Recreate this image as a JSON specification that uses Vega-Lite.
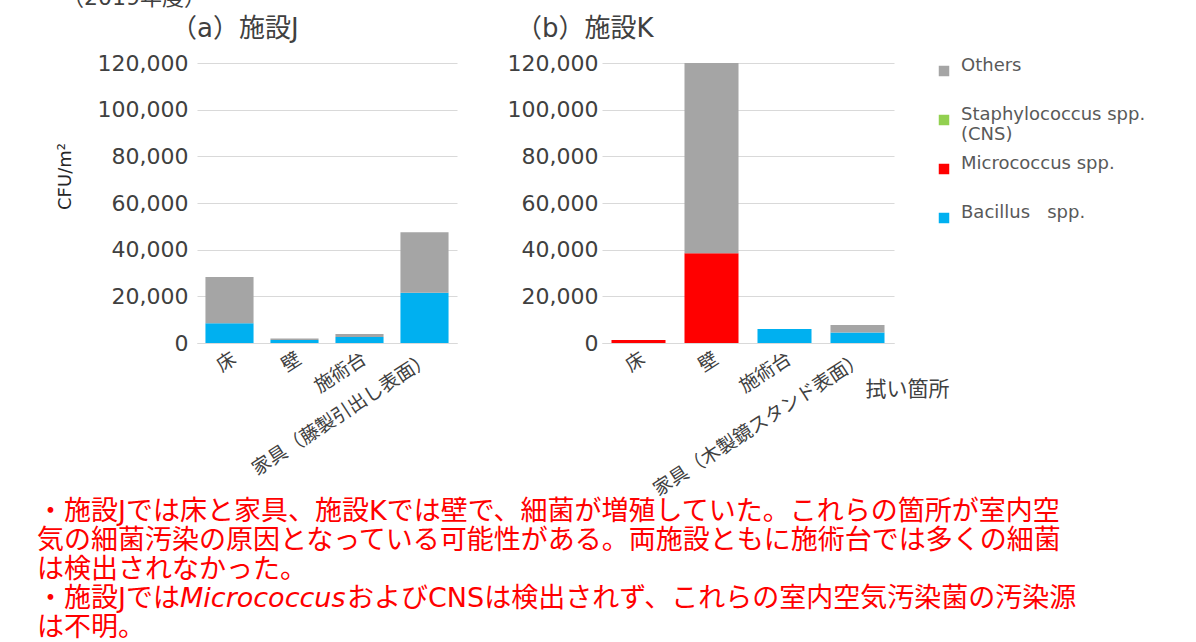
{
  "$schema": "https://vega.github.io/schema/vega-lite/v6.json",
  "background": "white",
  "padding": {"left": 37, "top": -13, "right": 0, "bottom": 0},
  "title": {"text": "（2019年度）", "anchor": "start", "frame": "bounds", "fontSize": 22, "font": "DejaVu Sans, Noto Sans CJK JP", "fontWeight": "normal", "color": "#404040", "dx": 25, "offset": 6},
  "datasets": {
    "bars": [
      {"facility": "J", "location": "床", "species": "Bacillus spp.", "cfu": 8500},
      {"facility": "J", "location": "床", "species": "Others", "cfu": 19800},
      {"facility": "J", "location": "壁", "species": "Bacillus spp.", "cfu": 1300},
      {"facility": "J", "location": "壁", "species": "Others", "cfu": 600},
      {"facility": "J", "location": "施術台", "species": "Bacillus spp.", "cfu": 2600},
      {"facility": "J", "location": "施術台", "species": "Others", "cfu": 1300},
      {"facility": "J", "location": "家具（藤製引出し表面）", "species": "Bacillus spp.", "cfu": 21500},
      {"facility": "J", "location": "家具（藤製引出し表面）", "species": "Others", "cfu": 26000},
      {"facility": "K", "location": "床", "species": "Micrococcus spp.", "cfu": 1300},
      {"facility": "K", "location": "壁", "species": "Micrococcus spp.", "cfu": 38500},
      {"facility": "K", "location": "壁", "species": "Others", "cfu": 81500},
      {"facility": "K", "location": "施術台", "species": "Bacillus spp.", "cfu": 6000},
      {"facility": "K", "location": "家具（木製鏡スタンド表面）", "species": "Bacillus spp.", "cfu": 4500},
      {"facility": "K", "location": "家具（木製鏡スタンド表面）", "species": "Others", "cfu": 3200}
    ]
  },
  "spacing": -4,
  "vconcat": [
    {
      "spacing": 50,
      "hconcat": [
        {
          "width": 260,
          "height": 280,
          "title": {"text": "（a）施設J", "anchor": "start", "frame": "group", "dx": -26, "fontSize": 26, "font": "DejaVu Sans, Noto Sans CJK JP", "fontWeight": "normal", "color": "#404040", "offset": 10},
          "data": {"name": "bars"},
          "transform": [{"filter": "datum.facility === 'J'"}],
          "mark": {"type": "bar"},
          "encoding": {
            "x": {"field": "location", "type": "nominal", "sort": null, "scale": {"paddingInner": 0.26, "paddingOuter": 0.13},
              "axis": {"title": null, "labelAngle": -33, "labelFont": "Noto Sans CJK JP", "labelFontSize": 19, "labelColor": "#404040", "ticks": false, "domainColor": "#D9D9D9", "labelPadding": 6, "labelLimit": 400}},
            "y": {"field": "cfu", "type": "quantitative", "stack": "zero", "scale": {"domain": [0, 120000], "nice": false},
              "axis": {"title": "CFU/m²", "values": [0, 20000, 40000, 60000, 80000, 100000, 120000], "format": ",d", "labelFont": "DejaVu Sans", "labelFontSize": 22, "labelColor": "#404040", "labelPadding": 9, "ticks": false, "domain": false, "gridColor": "#D9D9D9", "titleFont": "DejaVu Sans", "titleFontSize": 18, "titleFontWeight": "normal", "titleColor": "#262626", "titleX": -132, "titleY": 113, "titleAngle": -90, "titleAlign": "center", "titleBaseline": "middle"}},
            "color": {"field": "species", "type": "nominal",
              "scale": {"domain": ["Others", "Staphylococcus spp. (CNS)", "Micrococcus spp.", "Bacillus spp."], "range": ["#A5A5A5", "#92D050", "#FF0000", "#00B0F0"]},
              "legend": {"title": null, "orient": "none", "legendX": 738, "legendY": -1, "symbolType": "square", "symbolSize": 110, "symbolStrokeWidth": 0, "labelFont": "DejaVu Sans", "labelFontSize": 18, "labelColor": "#595959", "labelBaseline": "alphabetic", "rowPadding": 11, "labelLimit": 300, "labelOffset": 8,
                "labelExpr": "datum.label == 'Staphylococcus spp. (CNS)' ? ['Staphylococcus spp.', '(CNS)'] : datum.label == 'Bacillus spp.' ? ['Bacillus\u00a0\u00a0 spp.', ''] : [datum.label, '']"}},
            "order": {"field": "species", "sort": "ascending"}
          }
        },
        {
          "width": 292,
          "height": 280,
          "title": {"text": "（b）施設K", "anchor": "start", "frame": "group", "dx": -86, "fontSize": 26, "font": "DejaVu Sans, Noto Sans CJK JP", "fontWeight": "normal", "color": "#404040", "offset": 10},
          "data": {"name": "bars"},
          "transform": [{"filter": "datum.facility === 'K'"}],
          "mark": {"type": "bar"},
          "encoding": {
            "x": {"field": "location", "type": "nominal", "sort": null, "scale": {"paddingInner": 0.26, "paddingOuter": 0.13},
              "axis": {"title": "拭い箇所", "titleFont": "Noto Sans CJK JP", "titleFontSize": 21, "titleFontWeight": "normal", "titleColor": "#404040", "titleX": 263, "titleY": 46, "titleAlign": "left", "titleBaseline": "middle", "labelAngle": -33, "labelFont": "Noto Sans CJK JP", "labelFontSize": 19, "labelColor": "#404040", "ticks": false, "domainColor": "#D9D9D9", "labelPadding": 6, "labelLimit": 400}},
            "y": {"field": "cfu", "type": "quantitative", "stack": "zero", "scale": {"domain": [0, 120000], "nice": false},
              "axis": {"title": null, "values": [0, 20000, 40000, 60000, 80000, 100000, 120000], "format": ",d", "labelFont": "DejaVu Sans", "labelFontSize": 22, "labelColor": "#404040", "labelPadding": 4, "ticks": false, "domain": false, "gridColor": "#D9D9D9"}},
            "color": {"field": "species", "type": "nominal",
              "scale": {"domain": ["Others", "Staphylococcus spp. (CNS)", "Micrococcus spp.", "Bacillus spp."], "range": ["#A5A5A5", "#92D050", "#FF0000", "#00B0F0"]},
              "legend": {"title": null, "orient": "none", "legendX": 738, "legendY": -1, "symbolType": "square", "symbolSize": 110, "symbolStrokeWidth": 0, "labelFont": "DejaVu Sans", "labelFontSize": 18, "labelColor": "#595959", "labelBaseline": "alphabetic", "rowPadding": 11, "labelLimit": 300, "labelOffset": 8,
                "labelExpr": "datum.label == 'Staphylococcus spp. (CNS)' ? ['Staphylococcus spp.', '(CNS)'] : datum.label == 'Bacillus spp.' ? ['Bacillus\u00a0\u00a0 spp.', ''] : [datum.label, '']"}},
            "order": {"field": "species", "sort": "ascending"}
          }
        }
      ]
    },
    {
      "width": 1000,
      "height": 140,
      "layer": [
        {
          "data": {"values": [
            {"line": 1, "text": "・施設Jでは床と家具、施設Kでは壁で、細菌が増殖していた。これらの箇所が室内空"},
            {"line": 2, "text": "気の細菌汚染の原因となっている可能性がある。両施設ともに施術台では多くの細菌"},
            {"line": 3, "text": "は検出されなかった。"},
            {"line": 4, "text": "・施設Jでは"},
            {"line": 5, "text": "は不明。"}
          ]},
          "mark": {"type": "text", "align": "left", "baseline": "middle", "font": "DejaVu Sans, Noto Sans CJK JP", "fontSize": 27, "color": "#FF0000", "dx": -160},
          "encoding": {
            "x": {"value": 0},
            "y": {"field": "line", "type": "ordinal", "scale": {"type": "point", "padding": 0.4}, "axis": null},
            "text": {"field": "text"}
          }
        },
        {
          "data": {"values": [{"line": 4, "text": "Micrococcus"}]},
          "mark": {"type": "text", "align": "left", "baseline": "middle", "font": "DejaVu Sans, Noto Sans CJK JP", "fontSize": 27, "fontStyle": "italic", "color": "#FF0000", "dx": -17},
          "encoding": {
            "x": {"value": 0},
            "y": {"field": "line", "type": "ordinal", "scale": {"type": "point", "padding": 0.4}, "axis": null},
            "text": {"field": "text"}
          }
        },
        {
          "data": {"values": [{"line": 4, "text": "およびCNSは検出されず、これらの室内空気汚染菌の汚染源"}]},
          "mark": {"type": "text", "align": "left", "baseline": "middle", "font": "DejaVu Sans, Noto Sans CJK JP", "fontSize": 27, "color": "#FF0000", "dx": 150},
          "encoding": {
            "x": {"value": 0},
            "y": {"field": "line", "type": "ordinal", "scale": {"type": "point", "padding": 0.4}, "axis": null},
            "text": {"field": "text"}
          }
        }
      ]
    }
  ],
  "resolve": {"scale": {"color": "shared"}},
  "config": {
    "view": {"stroke": null},
    "axis": {"gridColor": "#D9D9D9", "gridWidth": 1}
  }
}
